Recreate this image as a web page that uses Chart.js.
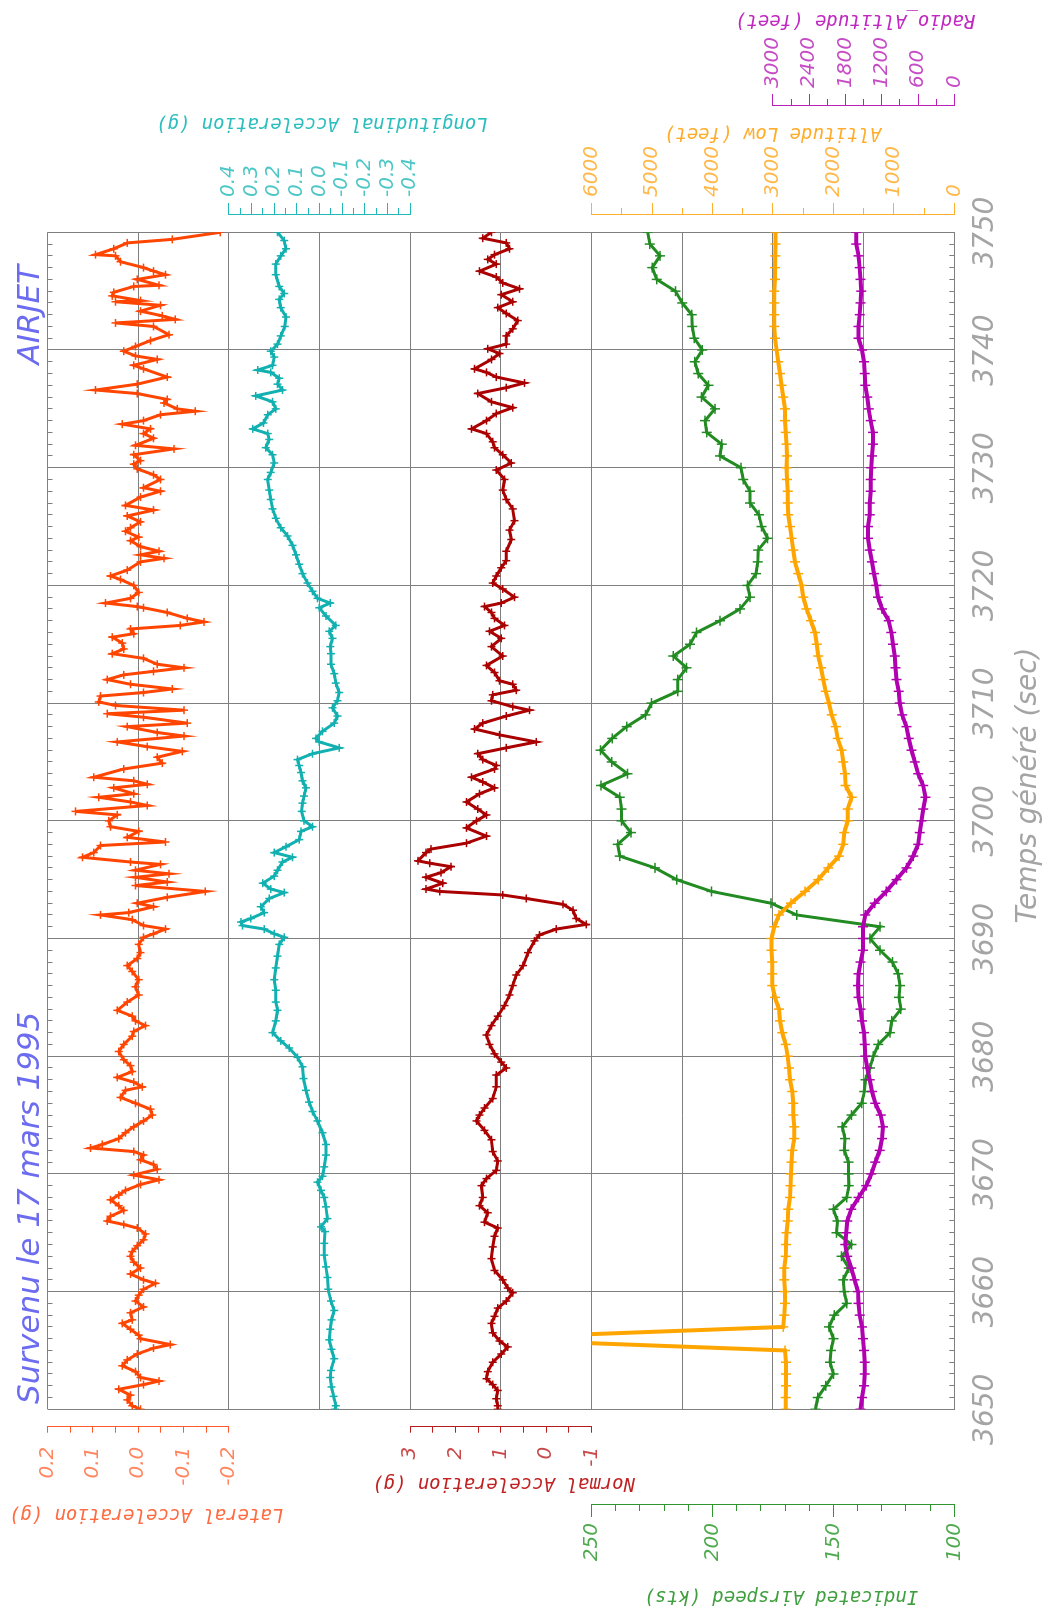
<!DOCTYPE html>
<html lang="fr">
<head>
<meta charset="utf-8">
<title>AIRJET - 17 mars 1995</title>
<script src="https://cdn.jsdelivr.net/npm/chart.js@4.4.1/dist/chart.umd.min.js"></script>
<style>
  html, body { margin: 0; padding: 0; background: #fff; }
  body { width: 1053px; height: 1613px; overflow: hidden; position: relative; }
  /* the recorder sheet is laid out landscape and turned a quarter turn */
  #sheet { position: absolute; left: 0; top: 0; width: 1613px; height: 1053px;
           transform-origin: 0 0; transform: translateY(1613px) rotate(-90deg); }
  #sheet canvas { display: block; }
</style>
</head>
<body>
<div id="sheet"><canvas id="fdr" width="1613" height="1053"></canvas></div>
<script>
// ---------------------------------------------------------------------------
// Flight data, 3650 s to 3750 s
// ---------------------------------------------------------------------------

// 1 Hz time base (s)
const secs = Array.from({length: 101}, (_, i) => 3650 + i);

// Indicated airspeed (kts), 1 Hz
const airspeed = [
  157.4,156.5,153.2,150.0,151.4,151.0,150.0,151.8,149.6,144.5,
  145.5,145.9,143.6,146.6,142.5,148.7,148.3,150.0,144.5,143.6,
  143.8,143.8,145.5,145.2,146.3,142.5,138.3,137.2,136.7,134.9,
  133.5,131.4,126.6,125.9,122.1,122.9,122.5,123.2,125.6,130.7,
  134.9,130.7,165.2,175.8,200.4,214.8,223.8,238.3,239.2,233.7,
  237.6,237.6,238.3,246.1,235.1,241.7,246.3,241.5,235.5,227.7,
  225.2,214.4,214.4,210.7,216.2,209.3,206.6,196.9,188.6,184.5,
  185.5,182.0,181.3,181.1,177.2,179.7,180.8,184.5,184.5,187.3,
  188.2,196.9,196.2,202.4,203.1,199.0,204.5,201.7,205.9,207.3,
  204.2,207.5,208.4,208.6,212.5,215.3,223.1,224.9,221.7,225.9,
  226.8
];

// Altitude Low (feet), 1 Hz
const altitudeLow = [
  2790,2790,2785,2785,2785,2801,8000,2829,2812,2801,
  2801,2812,2812,2790,2785,2774,2757,2746,2719,2708,
  2702,2691,2680,2647,2647,2663,2663,2680,2719,2735,
  2757,2790,2845,2884,2901,2967,3011,3011,3011,3022,
  3022,2978,2901,2702,2470,2250,2084,1908,1836,1820,
  1764,1764,1698,1798,1809,1836,1864,1930,1963,2029,
  2073,2128,2167,2206,2250,2277,2305,2371,2443,2498,
  2526,2581,2636,2663,2691,2719,2746,2757,2757,2768,
  2774,2768,2774,2790,2801,2801,2829,2857,2884,2912,
  2939,2967,2978,2978,2978,2978,2967,2967,2961,2956,
  2956
];

// Radio altitude (feet), 1 Hz
const radioAltitude = [
  1550,1528,1494,1483,1483,1494,1511,1528,1566,1583,
  1594,1649,1705,1771,1804,1788,1771,1705,1583,1456,
  1373,1306,1234,1196,1179,1218,1306,1362,1400,1439,
  1472,1483,1494,1528,1550,1583,1594,1583,1550,1511,
  1511,1511,1472,1317,1124,958,792,681,598,570,
  542,515,476,515,598,653,708,753,792,863,
  902,919,958,974,985,1013,1041,1085,1196,1262,
  1290,1328,1362,1400,1428,1428,1400,1400,1384,1384,
  1373,1362,1345,1345,1384,1417,1439,1472,1483,1494,
  1528,1583,1583,1566,1550,1539,1550,1566,1583,1622,
  1622
];

// Lateral acceleration (g)
const lateralT = [
  3650.0,3650.3,3650.8,3651.2,3651.7,3652.1,3652.4,3652.7,3653.2,3653.7,
  3654.2,3654.7,3655.2,3655.5,3656.0,3656.3,3656.8,3657.3,3657.6,3658.2,
  3658.7,3659.2,3659.7,3660.2,3660.7,3661.0,3661.5,3662.0,3662.5,3663.0,
  3663.4,3663.9,3664.4,3664.9,3665.4,3665.7,3666.0,3666.4,3666.9,3667.3,
  3667.8,3668.2,3668.6,3669.1,3669.5,3669.9,3670.4,3670.8,3671.2,3671.6,
  3671.9,3672.2,3672.5,3673.0,3673.5,3674.0,3674.5,3675.0,3675.5,3676.0,
  3676.5,3677.1,3677.4,3677.8,3678.2,3678.7,3679.2,3679.7,3680.4,3681.0,
  3681.7,3682.1,3682.6,3683.0,3683.4,3683.9,3684.6,3685.2,3685.9,3686.5,
  3687.2,3687.7,3688.3,3688.8,3689.5,3690.1,3690.4,3690.8,3691.1,3691.6,
  3692.0,3692.2,3692.7,3693.0,3693.5,3694.0,3694.5,3694.8,3695.2,3695.5,
  3695.8,3696.3,3696.5,3696.9,3697.3,3697.9,3698.2,3698.6,3699.1,3699.5,
  3700.0,3700.5,3700.8,3701.3,3701.6,3702.0,3702.3,3702.8,3703.1,3703.4,
  3703.7,3704.4,3704.9,3705.4,3705.9,3706.3,3706.7,3707.2,3707.5,3708.0,
  3708.3,3708.8,3709.1,3709.4,3709.8,3710.1,3710.6,3710.9,3711.2,3711.6,
  3712.0,3712.4,3712.7,3713.0,3713.3,3713.8,3714.2,3714.6,3715.1,3715.6,
  3715.9,3716.3,3716.6,3716.9,3717.2,3717.7,3718.1,3718.2,3718.5,3718.9,
  3719.4,3720.0,3720.5,3720.8,3721.3,3722.0,3722.3,3722.6,3722.9,3723.3,
  3723.8,3724.1,3724.6,3724.9,3725.4,3725.9,3726.4,3726.8,3727.5,3728.0,
  3728.3,3729.0,3729.4,3729.9,3730.3,3730.6,3731.1,3731.6,3731.9,3732.5,
  3732.9,3733.3,3733.7,3734.0,3734.5,3734.8,3735.0,3735.5,3735.8,3736.3,
  3736.6,3737.1,3737.7,3738.4,3738.7,3739.2,3739.5,3739.9,3740.3,3740.8,
  3741.3,3742.0,3742.3,3742.6,3742.9,3743.3,3743.8,3744.1,3744.2,3744.6,
  3744.9,3745.4,3745.5,3746.0,3746.4,3746.7,3747.0,3747.5,3748.0,3748.1,
  3748.6,3749.1,3749.4,3750.0
];
const lateralG = [
  -0.005,0.013,0.024,0.017,0.043,-0.012,-0.046,-0.005,0.006,0.035,
  0.024,0.002,-0.034,-0.071,-0.005,-0.001,0.017,0.035,0.013,0.017,
  -0.012,0.006,-0.001,-0.012,-0.038,-0.012,0.017,-0.005,0.010,0.017,
  0.013,0.002,-0.012,-0.016,0.002,0.032,0.068,0.061,0.032,0.043,
  0.061,0.043,0.028,-0.005,-0.046,0.010,-0.042,-0.034,-0.005,-0.012,
  0.010,0.105,0.079,0.043,0.028,0.010,-0.012,-0.031,-0.027,0.006,
  0.039,0.028,-0.009,0.010,0.046,0.013,0.017,0.032,0.043,0.032,
  0.013,0.010,-0.016,0.006,0.013,0.046,0.024,-0.001,0.006,-0.001,
  0.013,0.024,0.002,-0.005,-0.001,-0.012,-0.034,-0.060,-0.012,0.013,
  0.083,0.021,-0.034,0.002,-0.064,-0.148,0.006,-0.064,0.006,-0.068,
  0.006,-0.049,0.017,0.123,0.098,0.083,-0.060,0.024,-0.001,0.061,
  0.065,0.046,0.138,-0.020,0.017,0.087,0.010,0.054,-0.020,0.010,
  0.098,0.032,-0.053,-0.042,-0.097,-0.020,0.046,-0.101,-0.042,0.024,
  -0.108,-0.012,0.068,-0.101,0.050,0.087,0.083,-0.012,-0.075,0.017,
  0.068,0.032,-0.034,-0.101,-0.042,-0.012,0.057,0.032,0.035,0.057,
  0.010,0.017,-0.093,-0.145,-0.108,-0.064,-0.012,0.002,0.072,0.017,
  -0.001,0.010,0.039,0.061,0.024,-0.005,-0.057,-0.005,-0.046,-0.005,
  0.017,-0.001,0.028,0.017,-0.005,0.024,-0.034,0.028,-0.005,-0.049,
  -0.012,-0.049,-0.034,0.002,0.010,-0.005,0.010,-0.079,0.006,-0.034,
  -0.012,-0.027,0.035,-0.012,-0.049,-0.126,-0.086,-0.057,-0.064,0.002,
  0.094,0.002,-0.064,-0.012,0.010,-0.042,0.006,0.032,0.006,-0.027,
  -0.068,-0.034,0.050,-0.082,-0.053,-0.005,-0.049,0.050,-0.005,0.057,
  0.054,0.010,-0.046,0.002,-0.060,-0.034,-0.012,0.039,0.050,0.094,
  0.054,0.024,-0.075,-0.181
];

// Longitudinal acceleration (g)
const longT = [
  3650.0,3650.3,3651.1,3651.9,3652.7,3653.3,3654.3,3655.1,3655.9,3656.8,
  3657.6,3658.4,3659.2,3660.2,3661.2,3662.1,3663.1,3664.1,3665.1,3665.5,
  3666.2,3667.2,3668.0,3668.6,3669.3,3669.8,3670.6,3671.6,3672.5,3673.5,
  3674.5,3675.3,3676.1,3677.1,3678.1,3679.1,3679.9,3680.7,3681.3,3682.0,
  3683.0,3683.9,3684.6,3685.6,3686.5,3687.5,3688.5,3689.5,3690.1,3690.4,
  3690.8,3691.1,3691.4,3691.7,3692.2,3692.7,3693.4,3693.9,3694.2,3694.7,
  3695.3,3695.8,3696.5,3696.9,3697.3,3697.8,3698.4,3699.1,3699.5,3700.0,
  3700.8,3701.5,3702.1,3702.8,3703.4,3704.1,3704.7,3705.2,3705.7,3706.2,
  3706.7,3707.0,3707.6,3708.3,3708.9,3709.6,3710.2,3710.9,3711.7,3712.5,
  3713.3,3714.2,3714.8,3715.5,3716.1,3716.6,3717.4,3718.1,3718.5,3718.9,
  3719.5,3720.2,3721.0,3721.8,3722.6,3723.4,3724.2,3724.9,3725.7,3726.5,
  3727.3,3728.1,3729.0,3729.6,3730.4,3731.1,3731.7,3732.4,3732.9,3733.3,
  3733.8,3734.5,3735.0,3735.6,3736.1,3736.6,3737.1,3737.6,3738.1,3738.3,
  3738.7,3739.4,3739.9,3740.5,3741.2,3742.0,3742.8,3743.6,3744.3,3744.8,
  3745.4,3746.4,3747.3,3748.0,3748.6,3749.3,3750.0
];
const longG = [
  -0.068,-0.072,-0.062,-0.053,-0.047,-0.050,-0.065,-0.053,-0.043,-0.047,
  -0.053,-0.065,-0.050,-0.038,-0.035,-0.028,-0.021,-0.021,-0.024,-0.006,
  -0.035,-0.028,-0.021,-0.006,0.009,-0.013,-0.021,-0.028,-0.028,-0.013,
  0.009,0.031,0.046,0.060,0.071,0.075,0.097,0.134,0.171,0.207,
  0.193,0.185,0.193,0.193,0.200,0.193,0.185,0.178,0.156,0.200,
  0.244,0.340,0.347,0.303,0.244,0.259,0.222,0.156,0.215,0.251,
  0.200,0.185,0.163,0.119,0.200,0.148,0.090,0.082,0.031,0.068,
  0.079,0.075,0.068,0.060,0.075,0.082,0.090,0.097,0.031,-0.087,
  0.001,0.016,-0.013,-0.065,-0.079,-0.057,-0.079,-0.087,-0.072,-0.065,
  -0.050,-0.050,-0.047,-0.057,-0.043,-0.072,-0.028,0.001,-0.047,0.009,
  0.031,0.053,0.075,0.090,0.104,0.119,0.141,0.171,0.193,0.207,
  0.215,0.222,0.229,0.215,0.200,0.207,0.237,0.222,0.229,0.295,
  0.247,0.229,0.193,0.207,0.281,0.163,0.185,0.178,0.215,0.273,
  0.207,0.200,0.215,0.185,0.171,0.153,0.148,0.171,0.178,0.156,
  0.178,0.193,0.193,0.171,0.148,0.156,0.185
];

// Normal acceleration (g)
const normT = [
  3650.0,3650.3,3650.9,3651.6,3652.1,3652.6,3653.2,3654.0,3654.7,3655.3,
  3655.8,3656.5,3657.3,3657.9,3658.6,3659.2,3659.9,3660.3,3661.0,3661.8,
  3662.8,3663.8,3664.7,3665.4,3665.9,3666.7,3667.3,3668.0,3669.0,3669.6,
  3670.3,3671.1,3671.9,3672.9,3673.7,3674.5,3675.0,3675.6,3676.4,3677.4,
  3678.4,3679.0,3679.5,3680.2,3681.0,3681.8,3682.6,3683.4,3684.3,3685.2,
  3686.0,3686.9,3687.7,3688.8,3689.8,3690.3,3690.8,3691.2,3691.7,3692.4,
  3692.9,3693.4,3693.7,3694.0,3694.2,3694.7,3695.2,3695.6,3696.1,3696.4,
  3696.6,3697.3,3697.6,3698.1,3698.7,3699.4,3700.0,3700.5,3701.0,3701.6,
  3702.3,3702.8,3703.3,3703.7,3704.4,3704.7,3705.2,3705.7,3706.2,3706.7,
  3707.3,3707.8,3708.3,3708.9,3709.4,3709.7,3710.2,3710.7,3711.1,3711.6,
  3711.9,3712.6,3713.2,3714.0,3714.8,3715.5,3716.1,3716.6,3717.2,3717.7,
  3718.2,3718.5,3719.0,3719.7,3720.2,3720.8,3721.5,3722.1,3722.9,3723.9,
  3724.7,3725.5,3726.5,3727.3,3728.1,3729.0,3729.8,3730.4,3731.1,3731.7,
  3732.2,3732.9,3733.3,3734.0,3734.6,3735.1,3735.6,3736.3,3736.8,3737.2,
  3737.7,3738.1,3738.4,3739.2,3739.7,3740.1,3740.5,3741.2,3741.8,3742.5,
  3743.1,3743.6,3744.1,3744.7,3745.2,3745.7,3746.2,3746.7,3747.3,3747.7,
  3748.1,3748.6,3749.1,3749.5,3750.0
];
const normG = [
  1.07,1.07,1.10,1.07,1.18,1.32,1.29,1.18,0.99,0.85,
  1.03,1.18,1.21,1.14,1.07,0.88,0.74,0.85,0.96,1.14,
  1.21,1.18,1.14,1.07,1.36,1.29,1.47,1.40,1.43,1.32,
  1.10,1.07,1.18,1.21,1.36,1.54,1.47,1.36,1.18,1.10,
  1.10,0.88,0.99,1.14,1.25,1.32,1.21,1.07,0.92,0.81,
  0.74,0.66,0.51,0.40,0.26,0.15,-0.22,-0.88,-0.66,-0.59,
  -0.37,0.44,0.96,2.35,2.65,2.28,2.65,2.32,2.10,2.57,
  2.83,2.65,2.54,1.76,1.32,1.76,1.54,1.32,1.51,1.76,
  1.47,1.14,1.40,1.65,1.14,1.10,1.40,1.51,0.88,0.22,
  1.03,1.58,1.40,0.88,0.37,0.74,1.21,1.18,0.66,0.74,
  1.03,1.14,1.32,0.96,1.21,0.99,1.25,0.92,1.14,1.21,
  1.36,0.99,0.70,0.96,1.18,1.10,0.99,0.88,0.88,0.77,
  0.81,0.70,0.74,0.88,0.96,0.92,1.10,0.77,0.96,1.14,
  1.18,1.32,1.65,1.32,1.10,0.74,1.21,1.51,0.88,0.48,
  1.10,1.32,1.58,1.21,1.03,1.29,0.88,0.88,0.74,0.63,
  0.88,1.07,0.74,0.99,0.59,0.96,1.10,1.47,1.10,1.29,
  1.14,0.81,0.88,1.40,1.21
];

// Axis graduations: all tick values, labelled values, grid line values
const latTicks  = [0.2,0.15,0.1,0.05,0,-0.05,-0.1,-0.15,-0.2];
const latMajor  = [0.2,0.1,0,-0.1,-0.2];
const latGrid   = [0.2,0,-0.2];
const lonTicks  = [0.4,0.35,0.3,0.25,0.2,0.15,0.1,0.05,0,-0.05,-0.1,-0.15,-0.2,-0.25,-0.3,-0.35,-0.4];
const lonMajor  = [0.4,0.3,0.2,0.1,0,-0.1,-0.2,-0.3,-0.4];
const lonGrid   = [0.4,0,-0.4];
const nrmTicks  = [3,2.5,2,1.5,1,0.5,0,-0.5,-1];
const nrmMajor  = [3,2,1,0,-1];
const nrmGrid   = [3,1,-1];
const iasTicks  = [250,240,230,220,210,200,190,180,170,160,150,140,130,120,110,100];
const iasMajor  = [250,200,150,100];
const altTicks  = [6000,5500,5000,4500,4000,3500,3000,2500,2000,1500,1000,500,0];
const altMajor  = [6000,5000,4000,3000,2000,1000,0];
const altGrid   = [6000,4500,3000,1500,0];
const radTicks  = [3000,2700,2400,2100,1800,1500,1200,900,600,300,0];
const radMajor  = [3000,2400,1800,1200,600,0];
const timeMajor = [3650,3660,3670,3680,3690,3700,3710,3720,3730,3740,3750];

// ---------------------------------------------------------------------------
// Sheet geometry (landscape pixels, before the quarter turn)
// ---------------------------------------------------------------------------
const SHEET = {
  left: 203.7, right: 1380.7, top: 47.5, bottom: 954.3,
  accelAxis: 186.3,   // lateral / normal axis line
  speedAxis: 108,     // airspeed axis line
  rightAxis: 1398,    // longitudinal / altitude axis line
  radioAxis: 1507     // radio altitude axis line
};
const GRID = '#7f7f7f';
const CLEAR = 'rgba(0,0,0,0)';
const near = (list, v) => list.some(m => Math.abs(m - v) < 1e-7);

function valueAxis(o) {
  const isMajor = v => near(o.major, v);
  const hasGrid = v => !!o.grid && near(o.grid, v);
  const fromOuter = o.position === 'left';
  return {
    type: 'linear', position: o.position, min: o.min, max: o.max,
    afterBuildTicks: s => { s.ticks = o.ticks.map(v => ({value: v})); },
    grid: {
      drawOnChartArea: !!o.grid,
      color: c => (c.tick && hasGrid(c.tick.value)) ? GRID : CLEAR,
      lineWidth: 1,
      tickColor: o.color,
      tickWidth: 1,
      tickLength: o.tickLen,
      tickBorderDash: c => (!o.minorLen || !c.tick || isMajor(c.tick.value)) ? [] : [o.minorLen, o.tickLen - o.minorLen],
      tickBorderDashOffset: c => (!o.minorLen || !c.tick || isMajor(c.tick.value) || !fromOuter) ? 0 : o.minorLen
    },
    border: {display: true, color: o.color, width: 1},
    ticks: {
      autoSkip: false, padding: o.pad, color: o.labelColor,
      font: {family: 'DejaVu Sans', size: 20, style: 'italic'},
      callback: v => isMajor(v) ? o.format(v) : ''
    }
  };
}

const pairs = (t, v) => t.map((x, i) => ({x, y: v[i]}));
const perSecond = v => secs.map((x, i) => ({x, y: v[i]}));

function trace(label, data, yAxisID, color, width, radius) {
  return {
    label, data, yAxisID, xAxisID: 'x',
    borderColor: color, backgroundColor: color, borderWidth: width,
    pointStyle: 'cross', pointRadius: radius, pointBorderWidth: 1.5,
    pointBorderColor: color, tension: 0, fill: false
  };
}

// Put every axis in its own strip of the sheet
const placeScales = {
  id: 'placeScales',
  afterLayout(chart) {
    const f = SHEET;
    const band = (f.bottom - f.top) / 5;
    Object.assign(chart.chartArea, {
      left: f.left, right: f.right, top: f.top, bottom: f.bottom,
      width: f.right - f.left, height: f.bottom - f.top
    });
    const put = (id, l, t, r, b) => {
      const s = chart.scales[id];
      s.left = l; s.top = t; s.right = r; s.bottom = b;
      s.width = r - l; s.height = b - t;
      s.configure();
    };
    put('x',    f.left, f.bottom, f.right, f.bottom + 90);
    put('xTop', f.left, f.top - 20, f.right, f.top);
    put('yLat', f.accelAxis - 120, f.top, f.accelAxis, f.top + band);
    put('yLon', f.rightAxis, f.top + band, f.rightAxis + 120, f.top + 2 * band);
    put('yNrm', f.accelAxis - 120, f.top + 2 * band, f.accelAxis, f.top + 3 * band);
    put('yIas', f.speedAxis - 100, f.top + 3 * band, f.speedAxis, f.bottom);
    put('yAlt', f.rightAxis, f.top + 3 * band, f.rightAxis + 120, f.bottom);
    put('yRad', f.radioAxis, f.top + 4 * band, f.radioAxis + 100, f.bottom);
  }
};

// Headings and axis names
const CAPTIONS = [
  {text: 'Lateral Acceleration (g)',      color: '#ff6a40', x: 99,     y: 146},
  {text: 'Normal Acceleration (g)',       color: '#c02222', x: 130.5,  y: 503.5},
  {text: 'Indicated Airspeed (kts)',      color: '#3f9f3f', x: 17.5,   y: 781},
  {text: 'Longitudinal Acceleration (g)', color: '#2cbebe', x: 1490,   y: 321.7},
  {text: 'Altitude Low (feet)',           color: '#ffac2a', x: 1480.5, y: 772.5},
  {text: 'Radio_Altitude (feet)',         color: '#c028c0', x: 1593.5, y: 855}
];
const captions = {
  id: 'captions',
  afterDraw(chart) {
    const ctx = chart.ctx;
    ctx.save();
    ctx.fillStyle = '#6c6cf0';
    ctx.font = 'italic 31px "DejaVu Sans"';
    ctx.textBaseline = 'alphabetic';
    ctx.textAlign = 'left';
    ctx.fillText('Survenu le 17 mars 1995', 209, 39);
    ctx.textAlign = 'right';
    ctx.fillText('AIRJET', 1348, 39);

    ctx.fillStyle = '#a4a4a4';
    ctx.font = 'italic 28px "DejaVu Sans"';
    ctx.textAlign = 'center';
    ctx.textBaseline = 'middle';
    ctx.fillText('Temps généré (sec)', 827.5, 1029);

    ctx.font = 'italic 19px "DejaVu Sans Mono"';
    for (const c of CAPTIONS) {
      ctx.save();
      ctx.translate(c.x, c.y);
      ctx.rotate(-Math.PI / 2);
      ctx.fillStyle = c.color;
      ctx.fillText(c.text, 0, 0);
      ctx.restore();
    }
    ctx.restore();
  }
};

new Chart(document.getElementById('fdr'), {
  type: 'line',
  data: {
    datasets: [
      trace('Lateral Acceleration (g)',      pairs(lateralT, lateralG), 'yLat', '#ff4500', 3, 4),
      trace('Longitudinal Acceleration (g)', pairs(longT, longG),       'yLon', '#12b0b0', 3, 4),
      trace('Normal Acceleration (g)',       pairs(normT, normG),       'yNrm', '#aa0000', 3, 4),
      trace('Altitude Low (feet)',           perSecond(altitudeLow),    'yAlt', '#ffa500', 4, 5),
      trace('Radio_Altitude (feet)',         perSecond(radioAltitude),  'yRad', '#b000b0', 4, 5),
      trace('Indicated Airspeed (kts)',      perSecond(airspeed),       'yIas', '#228b22', 3, 5)
    ]
  },
  options: {
    responsive: false,
    animation: false,
    events: [],
    layout: {padding: 0},
    plugins: {legend: {display: false}, tooltip: {enabled: false}, title: {display: false}},
    scales: {
      x: {
        type: 'linear', position: 'bottom', min: 3650, max: 3750,
        afterBuildTicks: s => { s.ticks = secs.map(v => ({value: v})); },
        grid: {
          color: c => (c.tick && near(timeMajor, c.tick.value)) ? GRID : CLEAR,
          lineWidth: 1, tickColor: GRID, tickWidth: 1, tickLength: -5
        },
        border: {display: true, color: GRID, width: 1},
        ticks: {
          autoSkip: false, minRotation: 0, maxRotation: 0, padding: 20,
          color: '#a4a4a4', font: {family: 'DejaVu Sans', size: 28, style: 'italic'},
          callback: v => near(timeMajor, v) ? String(v) : ''
        }
      },
      xTop: {
        type: 'linear', position: 'top', min: 3650, max: 3750,
        afterBuildTicks: s => { s.ticks = secs.map(v => ({value: v})); },
        grid: {drawOnChartArea: false, tickColor: GRID, tickWidth: 1, tickLength: -5},
        border: {display: false},
        ticks: {display: false}
      },
      yLat: valueAxis({position: 'left', min: -0.2, max: 0.2, ticks: latTicks, major: latMajor, grid: latGrid,
                       tickLen: 6, pad: 14, color: '#ff5a2a', labelColor: '#ff8660', format: v => v.toFixed(1)}),
      yLon: valueAxis({position: 'right', min: -0.4, max: 0.4, ticks: lonTicks, major: lonMajor, grid: lonGrid,
                       tickLen: 12, minorLen: 6, pad: 6, color: '#22b8b8', labelColor: '#4cc6c6', format: v => v.toFixed(1)}),
      yNrm: valueAxis({position: 'left', min: -1, max: 3, ticks: nrmTicks, major: nrmMajor, grid: nrmGrid,
                       tickLen: 6, pad: 14, color: '#b81c1c', labelColor: '#c84a4a', format: v => String(v)}),
      yIas: valueAxis({position: 'left', min: 100, max: 250, ticks: iasTicks, major: iasMajor, grid: null,
                       tickLen: 12, minorLen: 6, pad: 6, color: '#2f952f', labelColor: '#4faa4f', format: v => String(v)}),
      yAlt: valueAxis({position: 'right', min: 0, max: 6000, ticks: altTicks, major: altMajor, grid: altGrid,
                       tickLen: 12, minorLen: 6, pad: 6, color: '#ffae2e', labelColor: '#ffb84a', format: v => String(v)}),
      yRad: valueAxis({position: 'right', min: 0, max: 3000, ticks: radTicks, major: radMajor, grid: null,
                       tickLen: 12, minorLen: 6, pad: 6, color: '#b822b8', labelColor: '#c64cc6', format: v => String(v)})
    }
  },
  plugins: [placeScales, captions]
});
</script>
</body>
</html>
